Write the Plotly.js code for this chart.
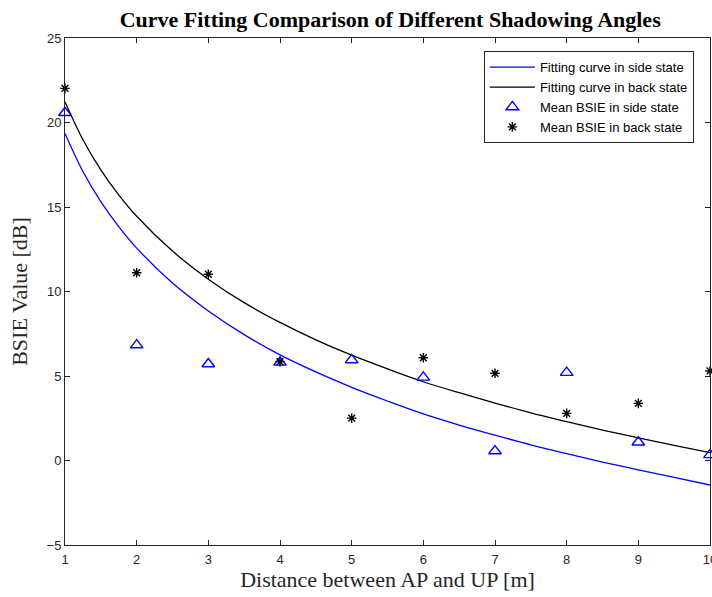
<!DOCTYPE html>
<html>
<head>
<meta charset="utf-8">
<script src="https://cdn.plot.ly/plotly-3.0.1.min.js"></script>
<style>html,body{margin:0;padding:0;background:#fff;}#chart{width:712px;height:597px;}</style>
</head>
<body>
<div id="chart"></div>
<script>
// Distance values (m)
const distances = [1, 2, 3, 4, 5, 6, 7, 8, 9, 10];
// Mean BSIE measurements (dB)
const meanSide = [20.58, 6.83, 5.71, 5.81, 5.95, 4.92, 0.56, 5.2, 1.08, 0.33];
const meanBack = [22.02, 11.11, 11.02, 5.85, 2.51, 6.08, 5.16, 2.79, 3.38, 5.3];
// Fitted curves
const curveX = [1, 1.25, 1.5, 1.75, 2, 2.5, 3, 3.5, 4, 4.5, 5, 5.5, 6, 6.5, 7, 7.5, 8, 8.5, 9, 9.5, 10];
const fitSide = [19.35, 17.1, 15.32, 13.84, 12.57, 10.5, 8.85, 7.45, 6.25, 5.24, 4.33, 3.52, 2.76, 2.1, 1.5, 0.93, 0.41, -0.09, -0.55, -1.0, -1.45];
const fitBack = [21.23, 18.98, 17.2, 15.72, 14.45, 12.39, 10.73, 9.34, 8.17, 7.14, 6.23, 5.42, 4.66, 4.01, 3.4, 2.82, 2.3, 1.8, 1.34, 0.9, 0.47];

const traces = [
  {x: curveX, y: fitSide, type: 'scatter', mode: 'lines', name: 'Fitting curve in side state',
   line: {color: '#0000ff', width: 1.3, shape: 'spline', smoothing: 1}},
  {x: curveX, y: fitBack, type: 'scatter', mode: 'lines', name: 'Fitting curve in back state',
   line: {color: '#000000', width: 1.3, shape: 'spline', smoothing: 1}},
  {x: distances, y: meanSide, type: 'scatter', mode: 'markers', name: 'Mean BSIE in side state',
   cliponaxis: false,
   marker: {symbol: 'triangle-up-open', size: 11, color: '#0000ff', line: {color: '#0000ff', width: 1.4}}},
  {x: distances, y: meanBack, type: 'scatter', mode: 'markers', name: 'Mean BSIE in back state',
   cliponaxis: false,
   marker: {symbol: 'asterisk-open', size: 8, color: '#000000', line: {color: '#000000', width: 1.4}}}
];

const axisCommon = {
  showline: true, linecolor: '#262626', linewidth: 1, mirror: 'allticks',
  ticks: 'inside', ticklen: 5, tickcolor: '#262626', tickwidth: 1,
  showgrid: false, zeroline: false,
  tickfont: {family: 'Liberation Sans, Arial, sans-serif', size: 13, color: '#262626'}
};

const layout = {
  width: 712, height: 597,
  margin: {l: 65, r: 2, t: 38, b: 52},
  paper_bgcolor: '#ffffff', plot_bgcolor: '#ffffff',
  title: {text: '<b>Curve Fitting Comparison of Different Shadowing Angles</b>',
          font: {family: 'Liberation Serif, Times New Roman, serif', size: 22, color: '#000'},
          x: 0.548, xanchor: 'center', y: 0.968, yanchor: 'middle'},
  xaxis: Object.assign({}, axisCommon, {
    range: [1, 10], tickmode: 'array', tickvals: distances, ticktext: distances.map(String),
    ticklabelstandoff: 2, ticklabeloverflow: 'allow',
    title: {text: 'Distance between AP and UP [m]', standoff: 6,
            font: {family: 'Liberation Serif, Times New Roman, serif', size: 22, color: '#262626'}}
  }),
  yaxis: Object.assign({}, axisCommon, {
    range: [-5, 25], tickvals: [-5, 0, 5, 10, 15, 20, 25],
    title: {text: 'BSIE Value [dB]', standoff: 12,
            font: {family: 'Liberation Serif, Times New Roman, serif', size: 22, color: '#262626'}}
  }),
  showlegend: true,
  legend: {x: 0.975, y: 0.974, xanchor: 'right', yanchor: 'top',
           bgcolor: '#ffffff', bordercolor: '#262626', borderwidth: 1,
           font: {family: 'Liberation Sans, Arial, sans-serif', size: 13, color: '#000'},
           tracegroupgap: 0, itemwidth: 45}
};

Plotly.newPlot('chart', traces, layout, {displayModeBar: false, staticPlot: true});
</script>
</body>
</html>
